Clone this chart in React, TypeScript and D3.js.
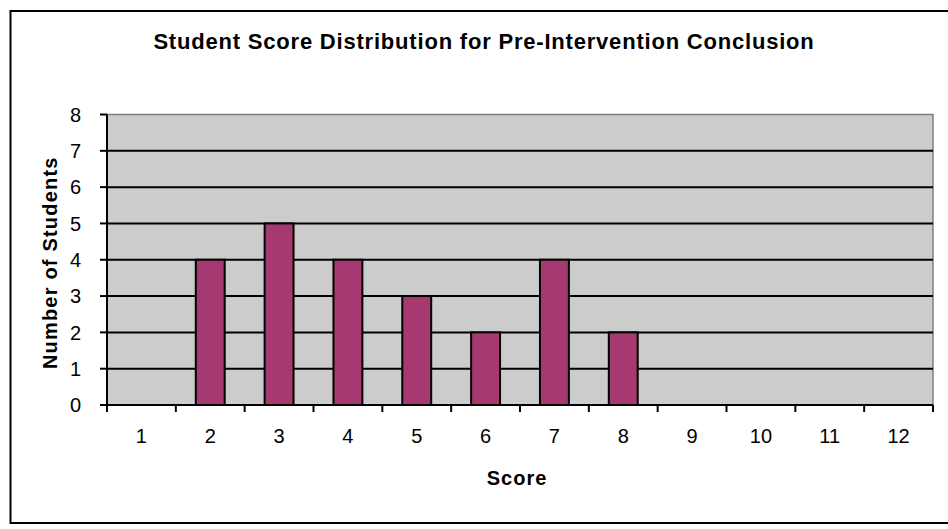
import React from 'react';
import * as d3 from 'd3';

// scores 1..12 and how many students got each
const scores = ['1', '2', '3', '4', '5', '6', '7', '8', '9', '10', '11', '12'];
const students = [0, 4, 5, 4, 3, 2, 4, 2, 0, 0, 0, 0];
const yTicks = [0, 1, 2, 3, 4, 5, 6, 7, 8];

const W = 948;
const H = 529;
const margin = { top: 114.5, right: 15, bottom: 124, left: 107 };
const font = 'Arial, "Liberation Sans", sans-serif';

export default function App() {
  const innerW = W - margin.left - margin.right;
  const innerH = H - margin.top - margin.bottom;

  const x = d3.scaleBand().domain(scores).range([0, innerW]).paddingInner(0.58).paddingOuter(0.29);
  const xBand = d3.scaleBand().domain(scores).range([0, innerW]);
  const y = d3.scaleLinear().domain([0, 8]).range([innerH, 0]);

  return (
    <svg width={W} height={H} style={{ position: 'absolute', left: 0, top: 0, background: '#fff' }}>
      <rect x={10.5} y={11} width={W} height={512} fill="none" stroke="#000" strokeWidth={2} />
      <text
        x={484}
        y={49}
        textAnchor="middle"
        fontFamily={font}
        fontWeight="bold"
        fontSize={22}
        letterSpacing={0.8}
      >
        Student Score Distribution for Pre-Intervention Conclusion
      </text>
      <g transform={`translate(${margin.left},${margin.top})`}>
        <rect width={innerW} height={innerH} fill="#cccccc" stroke="#808080" strokeWidth={1.5} />
        {yTicks.slice(1, -1).map((t) => (
          <line key={t} x1={0} x2={innerW} y1={y(t)} y2={y(t)} stroke="#000" strokeWidth={2} />
        ))}
        {scores.map((s, i) => (
          <rect
            key={s}
            x={x(s)}
            y={y(students[i])}
            width={x.bandwidth()}
            height={innerH - y(students[i])}
            fill="#a63a70"
            stroke="#000"
            strokeWidth={2}
            opacity={students[i] > 0 ? 1 : 0}
          />
        ))}
        <line x1={0} x2={0} y1={0} y2={innerH} stroke="#000" strokeWidth={2} />
        <line x1={-7} x2={innerW} y1={innerH} y2={innerH} stroke="#000" strokeWidth={2} />
        {yTicks.map((t) => (
          <g key={t} transform={`translate(0,${y(t)})`}>
            <line x1={-7} x2={0} stroke="#000" strokeWidth={2} />
            <text x={-26} dy="0.36em" textAnchor="end" fontFamily={font} fontSize={20}>
              {t}
            </text>
          </g>
        ))}
        {scores.map((s) => (
          <line
            key={s}
            x1={xBand(s)}
            x2={xBand(s)}
            y1={innerH}
            y2={innerH + 7}
            stroke="#000"
            strokeWidth={2}
          />
        ))}
        <line x1={innerW} x2={innerW} y1={innerH} y2={innerH + 7} stroke="#000" strokeWidth={2} />
        {scores.map((s) => (
          <text
            key={s}
            x={(xBand(s) ?? 0) + xBand.bandwidth() / 2}
            y={innerH + 38}
            textAnchor="middle"
            fontFamily={font}
            fontSize={20}
          >
            {s}
          </text>
        ))}
        <text
          x={innerW / 2 - 3}
          y={innerH + 80}
          textAnchor="middle"
          fontFamily={font}
          fontWeight="bold"
          fontSize={20}
          letterSpacing={1}
        >
          Score
        </text>
        <text
          transform={`translate(${-50},${innerH / 2 + 3}) rotate(-90)`}
          textAnchor="middle"
          fontFamily={font}
          fontWeight="bold"
          fontSize={20}
          letterSpacing={1.2}
        >
          Number of Students
        </text>
      </g>
    </svg>
  );
}
